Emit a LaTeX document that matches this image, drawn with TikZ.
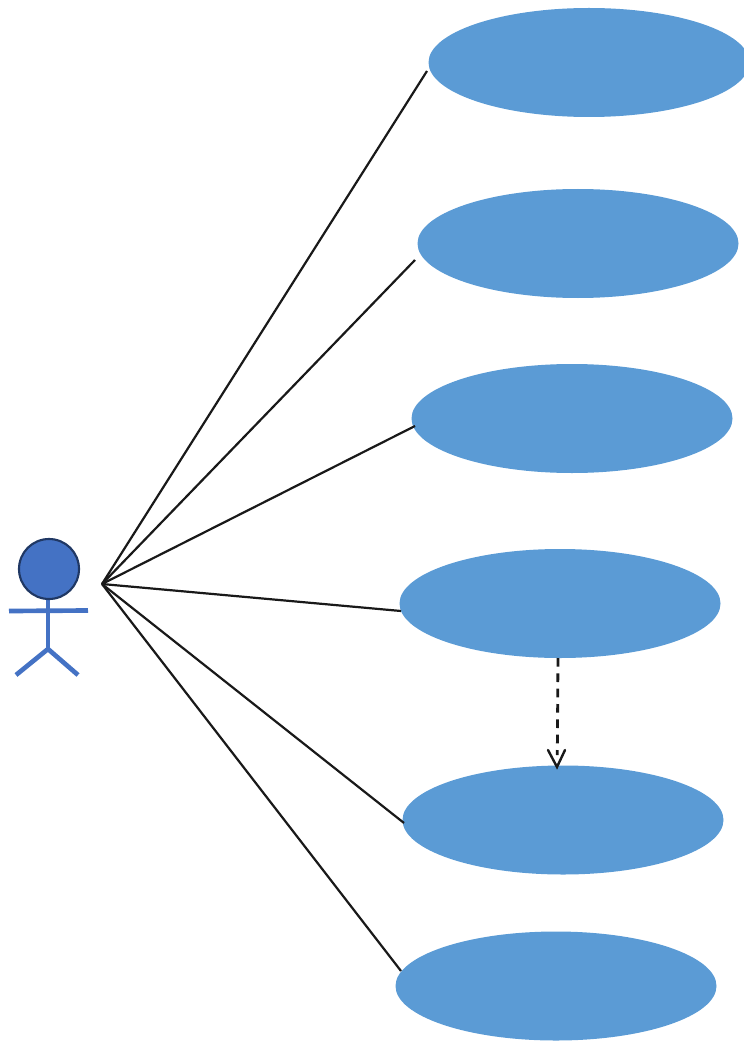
\documentclass[tikz,border=0pt]{standalone}
\usetikzlibrary{arrows.meta,shapes.geometric}
\definecolor{uc}{HTML}{5B9BD5}
\definecolor{actorfill}{HTML}{4472C4}
\definecolor{actorline}{HTML}{203864}
\newlength{\unit}\setlength{\unit}{0.75pt}
\tikzset{
  usecase/.style={ellipse,fill=uc,inner sep=0pt,minimum width=321\unit,minimum height=109\unit},
  assoc/.style={draw=black!90,line width=1.65pt},
  limb/.style={draw=actorfill,line width=3.5pt},
}
\begin{document}
\begin{tikzpicture}[x=0.75pt,y=-0.75pt]
\useasboundingbox (0,0) rectangle (743,1041);
\node[usecase] (a) at (589,62.5) {};
\node[usecase] (b) at (578,243.5) {};
\node[usecase] (c) at (572,418.5) {};
\node[usecase] (d) at (560,603.5) {};
\node[usecase] (e) at (563,820) {};
\node[usecase] (f) at (556,986) {};
\coordinate (hub) at (102,584);
\coordinate (ta) at (427,71);
\coordinate (tb) at (415,260);
\coordinate (tc) at (415,426);
\coordinate (td) at (401,611);
\coordinate (te) at (404,823);
\coordinate (tf) at (401,971);
\foreach \t in {ta,tb,tc,td,te,tf} \draw[assoc,line join=round] (hub) -- (\t);
\coordinate (ds) at (558,658);
\coordinate (dt) at (557,767);
\draw[black!90,line width=2.1pt,dash pattern=on 6.5pt off 5pt] (ds) -- (557.3,755);
\draw[black!90,line width=1.8pt,line cap=round] (548,750) -- (dt) -- (565,750);
\coordinate (hip) at (48,649);
\coordinate (armL) at (9,611);
\coordinate (armR) at (88,610.5);
\coordinate (legL) at (16,675);
\coordinate (legR) at (78,675);
\coordinate (neck) at (48,595);
\draw[limb] (neck) -- (hip);
\draw[limb] (armL) -- (armR);
\draw[limb,line join=round] (legL) -- (hip) -- (legR);
\node[circle,draw=actorline,fill=actorfill,line width=1.6pt,minimum size=60\unit,inner sep=0pt] (head) at (49,569) {};
\end{tikzpicture}
\end{document}
